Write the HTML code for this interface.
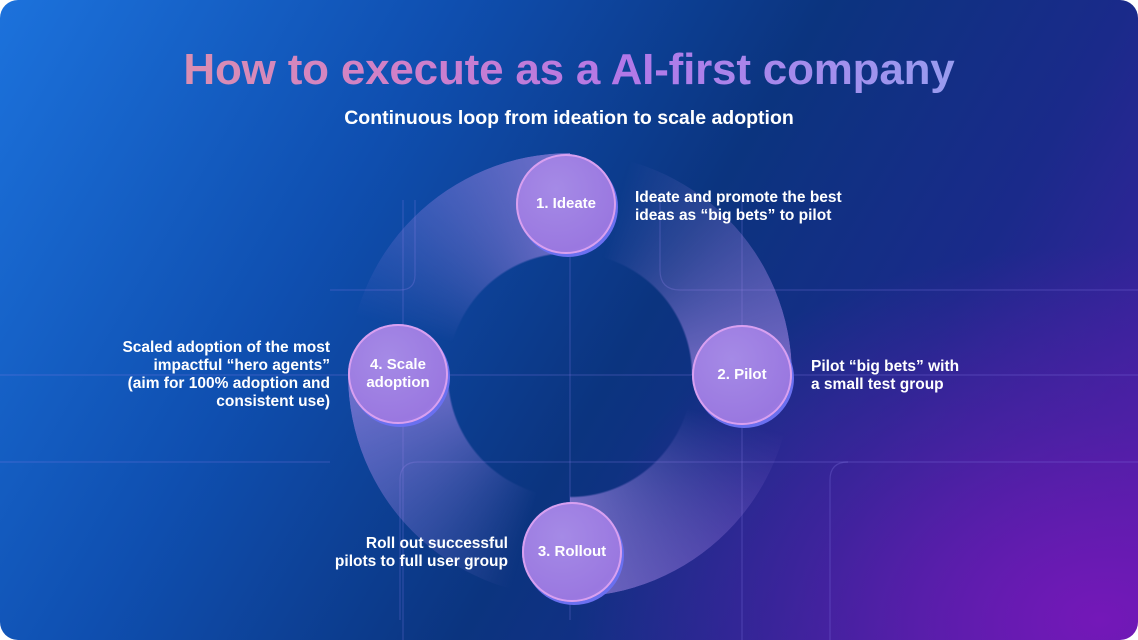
<!DOCTYPE html>
<html><head><meta charset="utf-8"><style>
html,body{margin:0;padding:0;background:#fff;}
.c{position:relative;width:1138px;height:640px;border-radius:18px;overflow:hidden;
background:radial-gradient(ellipse 700px 500px at 1100px 620px,#7418b8 0%,rgba(90,30,170,0.6) 40%,rgba(40,30,130,0) 75%),
linear-gradient(120deg,#1c72dc 0%,#0f4fb0 30%,#0b347f 55%,#1a2a8a 75%,#4a1ea8 100%);
font-family:"Liberation Sans",sans-serif;color:#fff;}
.t{position:absolute;left:0;width:1138px;text-align:center;}
h1{margin:0;font-size:44px;font-weight:bold;letter-spacing:-0.2px;
background:linear-gradient(90deg,#e39a9e 0%,#d080c8 35%,#b278e8 55%,#8ab0f4 100%);-webkit-background-clip:text;background-clip:text;color:transparent;}
.lab{position:absolute;font-size:15.5px;font-weight:bold;line-height:18px;}
.n{position:absolute;width:100px;height:100px;border-radius:50%;display:flex;align-items:center;justify-content:center;text-align:center;font-size:15px;font-weight:bold;line-height:18px;
background:radial-gradient(circle at 40% 35%,#a58ae6,#9a78e0 70%,#a884ea);box-shadow:inset 0 0 0 2px #d8a0f0,2px 3px 0 0 #6a70f0;}
.ring{position:absolute;left:348px;top:153px;width:444px;height:444px;border-radius:50%;
background:conic-gradient(rgba(168,138,232,0) 0deg 15deg,rgba(168,138,232,0.65) 90deg,rgba(168,138,232,0) 90deg 105deg,rgba(168,138,232,0.65) 180deg,rgba(168,138,232,0) 180deg 195deg,rgba(168,138,232,0.65) 270deg,rgba(168,138,232,0) 270deg 285deg,rgba(168,138,232,0.65) 360deg);
-webkit-mask:radial-gradient(circle,transparent 121px,#000 123px);mask:radial-gradient(circle,transparent 121px,#000 123px);}
</style></head><body><div class="c">
<svg width="1138" height="640" style="position:absolute;left:0;top:0">
<g stroke="#8a7ee8" stroke-opacity="0.28" stroke-width="1.2" fill="none">
<line x1="570" y1="190" x2="570" y2="620"/>
<line x1="0" y1="375" x2="1138" y2="375"/>
<line x1="403" y1="200" x2="403" y2="640"/>
<line x1="742" y1="200" x2="742" y2="640"/>
<path d="M330 290 H400 Q415 290 415 275 V200"/>
<path d="M660 200 V270 Q660 290 680 290 H1138"/>
<path d="M400 620 V480 Q400 462 418 462 H1138"/>
<path d="M0 462 H330"/>
<path d="M830 640 V480 Q830 462 848 462"/>
</g>
</svg>
<div class="ring"></div>
<div class="t" style="top:45px"><h1>How to execute as a AI-first company</h1></div>
<div class="t" style="top:107px;font-size:19.5px;font-weight:bold">Continuous loop from ideation to scale adoption</div>
<div class="n" style="left:516px;top:154px">1. Ideate</div>
<div class="n" style="left:692px;top:325px">2. Pilot</div>
<div class="n" style="left:522px;top:502px">3. Rollout</div>
<div class="n" style="left:348px;top:324px">4. Scale<br>adoption</div>
<div class="lab" style="left:635px;top:189px">Ideate and promote the best<br>ideas as “big bets” to pilot</div>
<div class="lab" style="left:811px;top:358px">Pilot “big bets” with<br>a small test group</div>
<div class="lab" style="left:280px;top:535px;width:228px;text-align:right">Roll out successful<br>pilots to full user group</div>
<div class="lab" style="left:60px;top:339px;width:270px;text-align:right">Scaled adoption of the most<br>impactful “hero agents”<br>(aim for 100% adoption and<br>consistent use)</div>
</div></body></html>
